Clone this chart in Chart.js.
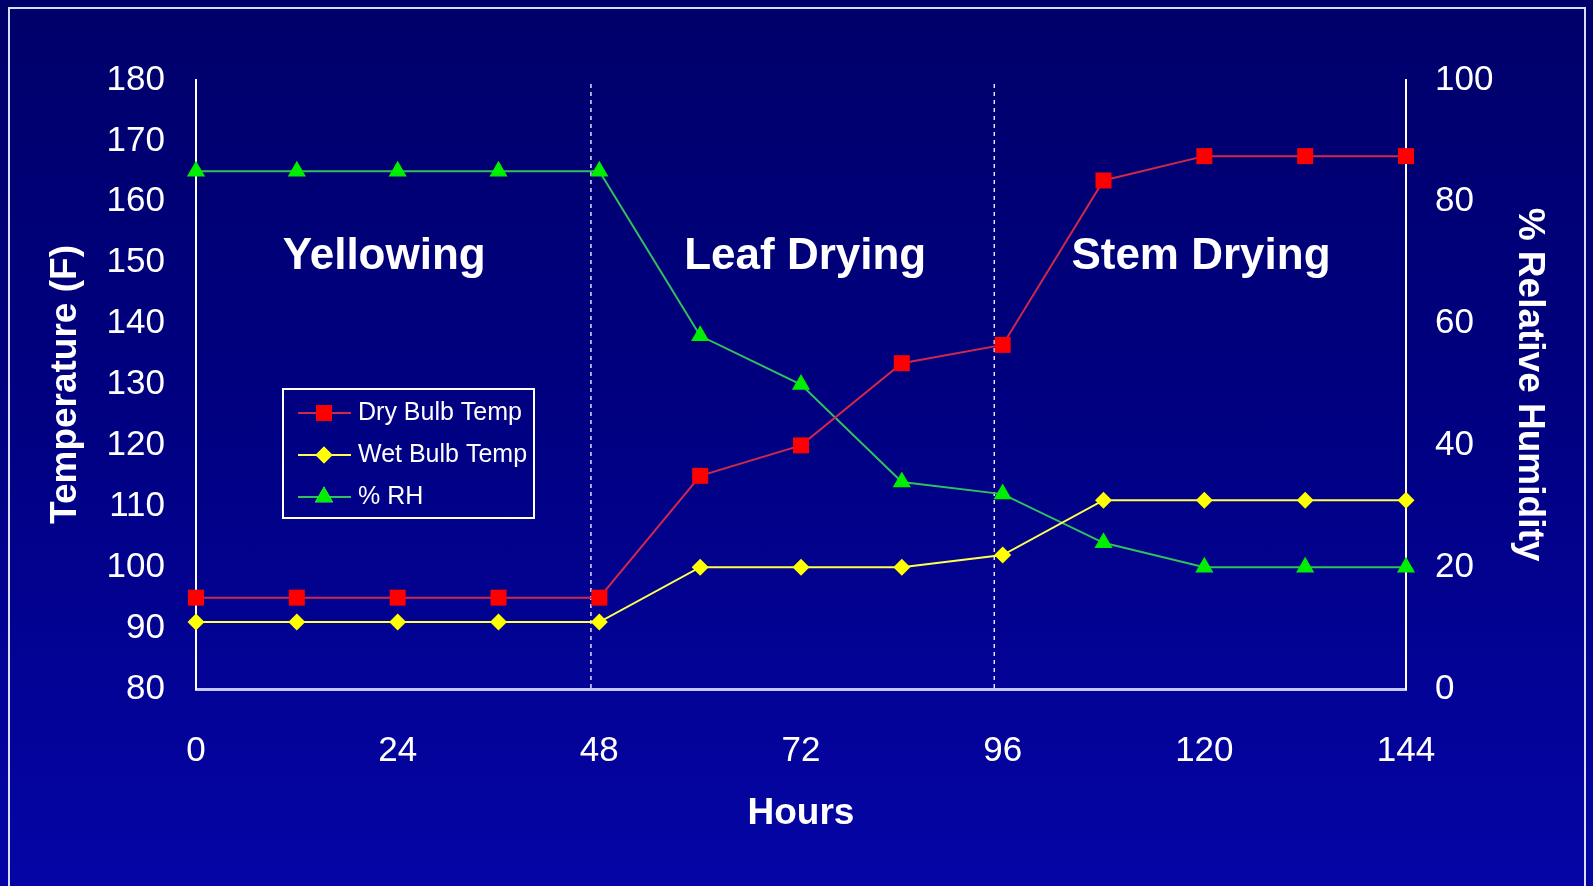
<!DOCTYPE html>
<html>
<head>
<meta charset="utf-8">
<script src="https://cdn.jsdelivr.net/npm/chart.js@4/dist/chart.umd.min.js"></script>
<style>
  html, body { margin: 0; padding: 0; }
  body {
    width: 1593px; height: 886px; overflow: hidden; position: relative;
    background: linear-gradient(to bottom, #00006a 0%, #000080 45%, #0505a6 100%);
  }
  #frame {
    position: absolute; left: 8px; top: 7px; width: 1578px; height: 900px;
    border: 2px solid #d8dcff; box-sizing: border-box;
  }
  #c { position: absolute; left: 0; top: 0; }
</style>
</head>
<body>
<div id="frame"></div>
<canvas id="c" width="1593" height="886"></canvas>
<script>
const hours = [0, 12, 24, 36, 48, 60, 72, 84, 96, 108, 120, 132, 144]
const dryBulb = [95, 95, 95, 95, 95, 115, 120, 133.5, 136.5, 163.5, 167.5, 167.5, 167.5]
const wetBulb = [91, 91, 91, 91, 91, 100, 100, 100, 102, 111, 111, 111, 111]
const relHumidity = [85, 85, 85, 85, 85, 58, 50, 34, 32, 24, 20, 20, 20]

const phaseBreaks = [47, 95]
const phaseNames = ['Yellowing', 'Leaf Drying', 'Stem Drying']
const phaseCenters = [22.4, 72.5, 119.6]
const phaseLabelTemp = 151

const FONT = "'Liberation Sans', Arial, sans-serif"

function points(values){
    return hours.map((h, i) => ({x: h, y: values[i]}))
}

// dotted phase separators + phase names
const phasePlugin = {
    id: 'phases',
    beforeDatasetsDraw(chart){
        const ctx = chart.ctx
        const xs = chart.scales.x
        const area = chart.chartArea
        ctx.save()
        ctx.strokeStyle = '#e0e0ff'
        ctx.lineWidth = 1.5
        ctx.setLineDash([4, 4])
        for (const b of phaseBreaks){
            const px = xs.getPixelForValue(b)
            ctx.beginPath()
            ctx.moveTo(px, area.top + 4)
            ctx.lineTo(px, area.bottom)
            ctx.stroke()
        }
        ctx.setLineDash([])
        ctx.fillStyle = '#ffffff'
        ctx.font = 'bold 44px ' + FONT
        ctx.textAlign = 'center'
        ctx.textBaseline = 'middle'
        const py = chart.scales.y.getPixelForValue(phaseLabelTemp)
        for (let i = 0; i < phaseNames.length; i++){
            ctx.fillText(phaseNames[i], xs.getPixelForValue(phaseCenters[i]), py)
        }
        ctx.restore()
    }
}

// boxed legend inside the plot
const legendBoxPlugin = {
    id: 'legendBox',
    afterDatasetsDraw(chart){
        const ctx = chart.ctx
        const left = 283, top = 389, w = 251, h = 129
        ctx.save()
        ctx.strokeStyle = '#ffffff'
        ctx.lineWidth = 2
        ctx.strokeRect(left, top, w, h)
        ctx.font = '25px ' + FONT
        ctx.textBaseline = 'middle'
        ctx.textAlign = 'left'
        chart.data.datasets.forEach((ds, i) => {
            const y = top + 24 + i * 42
            ctx.strokeStyle = ds.borderColor
            ctx.lineWidth = 2
            ctx.beginPath()
            ctx.moveTo(298, y)
            ctx.lineTo(351, y)
            ctx.stroke()
            Chart.helpers.drawPoint(ctx, {
                pointStyle: ds.pointStyle,
                radius: ds.pointRadius,
                rotation: 0,
                borderWidth: 0
            }, 324, y)
            ctx.fillStyle = ds.pointBackgroundColor
            ctx.fill()
            ctx.fillStyle = '#ffffff'
            ctx.fillText(ds.label, 358, y)
        })
        ctx.restore()
    }
}

Chart.defaults.font.family = FONT
Chart.defaults.color = '#ffffff'

new Chart(document.getElementById('c'), {
    type: 'line',
    data: {
        datasets: [{
            label: 'Dry Bulb Temp',
            data: points(dryBulb),
            yAxisID: 'y',
            borderColor: '#d0284a',
            borderWidth: 2,
            pointStyle: 'rect',
            pointRadius: 11.3,
            pointBackgroundColor: '#ff0000',
            pointBorderWidth: 0,
            clip: false
        }, {
            label: 'Wet Bulb Temp',
            data: points(wetBulb),
            yAxisID: 'y',
            borderColor: '#ffff50',
            borderWidth: 2,
            pointStyle: 'rectRot',
            pointRadius: 8.5,
            pointBackgroundColor: '#ffff00',
            pointBorderWidth: 0,
            clip: false
        }, {
            label: '% RH',
            data: points(relHumidity),
            yAxisID: 'y1',
            borderColor: '#30c060',
            borderWidth: 2,
            pointStyle: 'triangle',
            pointRadius: 10.5,
            pointBackgroundColor: '#00ee00',
            pointBorderWidth: 0,
            clip: false
        }]
    },
    options: {
        responsive: false,
        animation: false,
        devicePixelRatio: 1,
        layout: { padding: { top: 80, left: 0, right: 0, bottom: 0 } },
        plugins: {
            legend: { display: false },
            tooltip: { enabled: false }
        },
        scales: {
            x: {
                type: 'linear',
                min: 0, max: 144,
                grid: { display: false, drawTicks: false },
                border: { display: true, color: '#c4c8ff', width: 3 },
                ticks: { stepSize: 24, padding: 41, color: '#ffffff', font: { size: 35 } },
                title: { display: true, text: 'Hours', color: '#ffffff', padding: { top: 0, bottom: 50 },
                         font: { size: 37, weight: 'bold' } },
                afterFit(scale){ scale.height = 886 - 689 }
            },
            y: {
                position: 'left',
                min: 80, max: 180,
                grid: { display: false, drawTicks: false },
                border: { display: true, color: '#ffffff', width: 2 },
                ticks: { stepSize: 10, padding: 31, color: '#ffffff', font: { size: 35 } },
                title: { display: true, text: 'Temperature (F)', color: '#ffffff', padding: { top: 44, bottom: 0 },
                         font: { size: 37, weight: 'bold' } },
                afterFit(scale){ scale.width = 196 }
            },
            y1: {
                position: 'right',
                min: 0, max: 100,
                grid: { display: false, drawTicks: false },
                border: { display: true, color: '#ffffff', width: 2 },
                ticks: { stepSize: 20, padding: 29, color: '#ffffff', font: { size: 35 } },
                title: { display: true, text: '% Relative Humidity', color: '#ffffff', padding: { top: 42, bottom: 0 },
                         font: { size: 37, weight: 'bold' } },
                afterFit(scale){ scale.width = 1593 - 1406 }
            }
        }
    },
    plugins: [phasePlugin, legendBoxPlugin]
})
</script>
</body>
</html>
